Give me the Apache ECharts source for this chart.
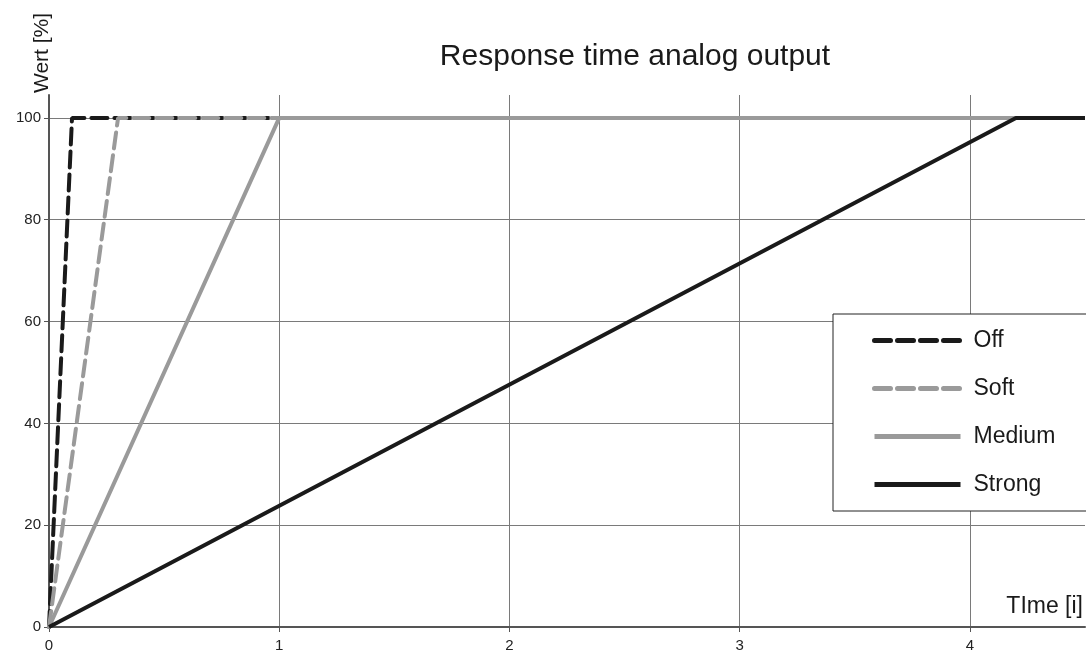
<!DOCTYPE html>
<html>
<head>
<meta charset="utf-8">
<script src="https://cdn.jsdelivr.net/npm/echarts@6/dist/echarts.min.js"></script>
<style>
  html, body { margin: 0; padding: 0; background: #fff; }
  #main { width: 1086px; height: 656px; }
</style>
</head>
<body>
<div id="main"></div>
<script>
// series points (time, value %)
var offTime = [0, 0.1, 1];
var offValue = [0, 100, 100];
var softTime = [0, 0.3, 1];
var softValue = [0, 100, 100];
var mediumTime = [0, 1, 4.5];
var mediumValue = [0, 100, 100];
var strongTime = [0, 4.2, 4.5];
var strongValue = [0, 100, 100];
var seriesNames = ['Off', 'Soft', 'Medium', 'Strong'];

function pairs(xs, ys) {
  return xs.map(function (x, i) { return [x, ys[i]]; });
}

var chart = echarts.init(document.getElementById('main'));
var font = 'Liberation Sans, Arial, sans-serif';
var grid = '#7a7a7a';
var none = 'rgba(0,0,0,0)';

var option = {
  animation: false,
  backgroundColor: '#fff',
  title: {
    text: 'Response time analog output',
    left: 630,
    textAlign: 'center',
    top: 37,
    textStyle: { fontFamily: font, fontSize: 30, fontWeight: 'normal', color: '#1a1a1a' }
  },
  grid: { left: 49, right: 0, top: 95, bottom: 29, containLabel: false },
  legend: {
    orient: 'vertical',
    left: 833,
    top: 314,
    data: seriesNames,
    backgroundColor: '#fff',
    borderColor: '#222',
    borderWidth: 1,
    borderRadius: 0,
    padding: [15, 60, 15, 39],
    itemWidth: 86,
    itemHeight: 24,
    itemGap: 25,
    // hide the marker dot, keep only the line
    itemStyle: { color: none, borderWidth: 0 },
    lineStyle: { width: 5 },
    textStyle: { fontFamily: font, fontSize: 23, color: '#1a1a1a', padding: [0, 0, 0, 8] }
  },
  xAxis: {
    type: 'value',
    min: 0,
    max: 4.5,
    interval: 1,
    name: 'TIme [i]',
    nameLocation: 'end',
    nameGap: 0,
    nameTextStyle: {
      fontFamily: font, fontSize: 23, color: '#1a1a1a',
      align: 'right', verticalAlign: 'bottom', padding: [0, 2, 9, 0]
    },
    axisLine: { lineStyle: { color: '#555', width: 2 } },
    axisTick: { show: true, length: 5, lineStyle: { color: '#555', width: 1 } },
    axisLabel: {
      fontFamily: font, fontSize: 15, color: '#222', margin: 11,
      showMaxLabel: false
    },
    splitLine: {
      show: true,
      lineStyle: { color: [grid, grid, grid, grid, grid, none], width: 1 }
    }
  },
  yAxis: {
    type: 'value',
    min: 0,
    max: 104.5,
    interval: 20,
    name: 'Wert [%]',
    nameLocation: 'end',
    nameRotate: 90,
    nameGap: 2,
    nameTextStyle: {
      fontFamily: font, fontSize: 21, color: '#1a1a1a',
      align: 'left', verticalAlign: 'bottom', padding: [0, 0, -4, 0]
    },
    axisLine: { show: true, lineStyle: { color: '#555', width: 2 } },
    axisTick: { show: true, length: 5, lineStyle: { color: '#555', width: 1 } },
    axisLabel: {
      fontFamily: font, fontSize: 15, color: '#222', margin: 8,
      showMaxLabel: false
    },
    splitLine: {
      show: true,
      lineStyle: { color: [grid, grid, grid, grid, grid, grid, none], width: 1 }
    }
  },
  series: [
    {
      name: 'Off', type: 'line', symbol: 'none', z: 3,
      data: pairs(offTime, offValue),
      lineStyle: { color: '#1a1a1a', width: 4, type: [16, 7], cap: 'round' },
      itemStyle: { color: '#1a1a1a' }
    },
    {
      name: 'Soft', type: 'line', symbol: 'none', z: 4,
      data: pairs(softTime, softValue),
      lineStyle: { color: '#9a9a9a', width: 4, type: [16, 7], cap: 'round' },
      itemStyle: { color: '#9a9a9a' }
    },
    {
      name: 'Medium', type: 'line', symbol: 'none', z: 5,
      data: pairs(mediumTime, mediumValue),
      lineStyle: { color: '#9a9a9a', width: 4 },
      itemStyle: { color: '#9a9a9a' }
    },
    {
      name: 'Strong', type: 'line', symbol: 'none', z: 6,
      data: pairs(strongTime, strongValue),
      lineStyle: { color: '#1a1a1a', width: 4 },
      itemStyle: { color: '#1a1a1a' }
    }
  ]
};
chart.setOption(option);
</script>
</body>
</html>
